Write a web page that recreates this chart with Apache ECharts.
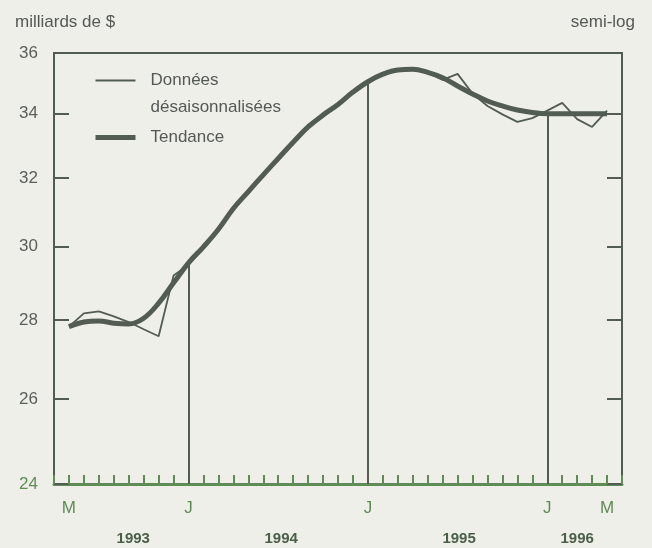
<!DOCTYPE html>
<html>
<head>
<meta charset="utf-8">
<script src="https://cdn.jsdelivr.net/npm/echarts@6/dist/echarts.min.js"></script>
<style>
html, body { margin: 0; padding: 0; background: #efefea; }
#chart { width: 652px; height: 548px; }
</style>
</head>
<body>
<div id="chart"></div>
<script>
// mois de mai 1993 à mai 1996
var months = ['mai 93','juin 93','juil 93','août 93','sept 93','oct 93','nov 93','déc 93',
  'janv 94','févr 94','mars 94','avr 94','mai 94','juin 94','juil 94','août 94','sept 94','oct 94','nov 94','déc 94',
  'janv 95','févr 95','mars 95','avr 95','mai 95','juin 95','juil 95','août 95','sept 95','oct 95','nov 95','déc 95',
  'janv 96','févr 96','mars 96','avr 96','mai 96'];

var donnees = [27.83, 28.18, 28.23, 28.10, 27.95, 27.76, 27.58, 29.20, 29.50, 29.95, 30.45, 31.15,
  31.55, 32.10, 32.60, 33.05, 33.65, 33.90, 34.30, 34.70, 35.00, 35.30, 35.43, 35.45, 35.35, 35.10,
  35.30, 34.65, 34.25, 33.98, 33.74, 33.86, 34.10, 34.35, 33.83, 33.58, 34.10];

var tendance = [27.83, 27.95, 27.98, 27.92, 27.90, 28.05, 28.45, 29.00, 29.55, 30.00, 30.50, 31.10,
  31.60, 32.10, 32.60, 33.10, 33.58, 33.96, 34.30, 34.70, 35.04, 35.29, 35.43, 35.45, 35.35, 35.17,
  34.90, 34.64, 34.41, 34.25, 34.12, 34.04, 34.00, 34.00, 34.00, 34.00, 34.00];

var yTicks = [24, 26, 28, 30, 32, 34, 36];
var monthTickIdx = [0, 8, 20, 32, 36];
var monthTickText = ['M', 'J', 'J', 'J', 'M'];
var yearPos = [4.3, 14.2, 26.1, 34.0];
var yearText = ['1993', '1994', '1995', '1996'];
var dropIdx = [8, 20, 32];

var ink = '#525c52';
var green = '#5f8c55';
var font = 'Liberation Sans';

var chart = echarts.init(document.getElementById('chart'));

var toPairs = function (arr) {
  return arr.map(function (v, i) { return [i, v]; });
};

var dropLines = dropIdx.map(function (i) {
  return [{ coord: [i, 24] }, { coord: [i, tendance[i]] }];
});

var nomDonnees = 'Données\ndésaisonnalisées';

option = {
  backgroundColor: '#efefea',
  animation: false,
  title: [
    { text: 'milliards de $', left: 10, top: 9,
      textStyle: { fontFamily: font, fontSize: 17, fontWeight: 'normal', color: '#555955' } },
    { text: 'semi-log', right: 12, top: 9,
      textStyle: { fontFamily: font, fontSize: 17, fontWeight: 'normal', color: '#555955' } }
  ],
  legend: {
    orient: 'vertical',
    left: 93,
    top: 40,
    padding: 0,
    itemWidth: 40,
    itemHeight: 2,
    itemGap: 3,
    selectedMode: false,
    itemStyle: { opacity: 0 },
    textStyle: { fontFamily: font, fontSize: 17, color: '#555955', lineHeight: 27, padding: [0, 0, 0, 10] },
    // ligne vide en tête : « Données » reste au niveau du trait
    formatter: function (name) { return name === nomDonnees ? ' \n' + name : name; },
    data: [
      { name: nomDonnees, lineStyle: { width: 2 } },
      { name: 'Tendance', lineStyle: { width: 5 } }
    ]
  },
  grid: {
    left: 54, right: 30, top: 53, bottom: 64,
    show: true,
    borderColor: ink,
    borderWidth: 2
  },
  xAxis: [
    {
      type: 'value',
      min: -1,
      max: 37,
      interval: 1,
      axisLine: { show: true, onZero: false, lineStyle: { color: green, width: 3 } },
      axisTick: { show: true, inside: true, length: 9, lineStyle: { color: green, width: 2 } },
      splitLine: { show: false },
      axisLabel: {
        customValues: monthTickIdx,
        margin: 16,
        fontFamily: font,
        fontSize: 17,
        color: green,
        formatter: function (v) { return monthTickText[monthTickIdx.indexOf(v)]; }
      }
    },
    {
      type: 'value',
      position: 'bottom',
      min: -1,
      max: 37,
      axisLine: { show: false, onZero: false },
      axisTick: { show: false },
      splitLine: { show: false },
      axisLabel: {
        customValues: yearPos,
        margin: 47,
        fontFamily: font,
        fontSize: 15,
        fontWeight: 'bold',
        color: '#4a5e48',
        formatter: function (v) { return yearText[yearPos.indexOf(v)]; }
      }
    }
  ],
  yAxis: [
    {
      type: 'log',
      min: 24,
      max: 36,
      axisLine: { show: true, onZero: false, lineStyle: { color: ink, width: 2 } },
      axisTick: { show: true, inside: true, length: 15, customValues: yTicks, lineStyle: { color: ink, width: 2 } },
      splitLine: { show: false },
      axisLabel: {
        customValues: yTicks,
        margin: 16,
        fontFamily: font,
        fontSize: 17,
        color: function (v) { return v == 24 ? green : '#5a5f5a'; }
      }
    },
    {
      type: 'log',
      position: 'right',
      min: 24,
      max: 36,
      axisLine: { show: true, onZero: false, lineStyle: { color: ink, width: 2 } },
      axisTick: { show: true, inside: true, length: 15, customValues: yTicks, lineStyle: { color: ink, width: 2 } },
      splitLine: { show: false },
      axisLabel: { show: false }
    }
  ],
  series: [
    {
      name: nomDonnees,
      type: 'line',
      data: toPairs(donnees),
      showSymbol: false,
      symbol: 'none',
      lineStyle: { color: ink, width: 1.8 },
      itemStyle: { color: ink },
      z: 3
    },
    {
      name: 'Tendance',
      type: 'line',
      data: toPairs(tendance),
      smooth: 0.4,
      showSymbol: false,
      symbol: 'none',
      lineStyle: { color: ink, width: 5 },
      itemStyle: { color: ink },
      z: 2,
      markLine: {
        silent: true,
        symbol: ['none', 'none'],
        label: { show: false },
        lineStyle: { color: ink, width: 2, type: 'solid' },
        data: dropLines
      }
    }
  ]
};

chart.setOption(option);
</script>
</body>
</html>
